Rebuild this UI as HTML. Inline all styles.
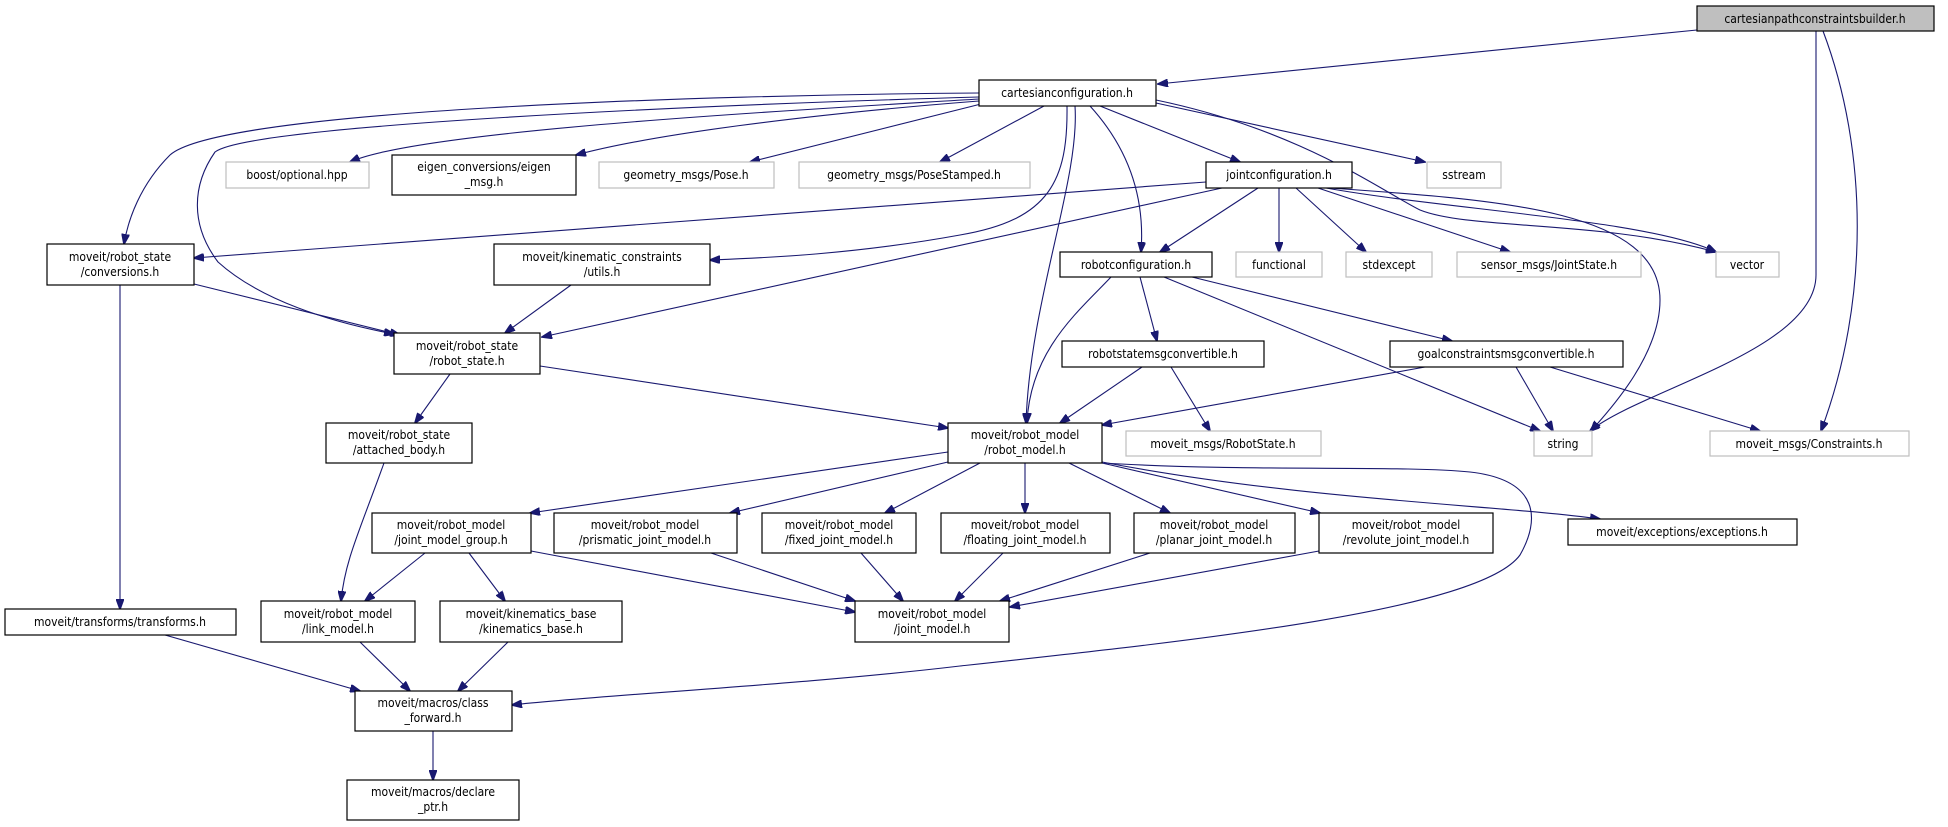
<!DOCTYPE html>
<html><head><meta charset="utf-8"><style>
html,body{margin:0;padding:0;background:#fff;}
svg{display:block;}
text{font-family:"DejaVu Sans Condensed","Liberation Sans Narrow","Liberation Sans",sans-serif;font-size:12px;fill:#000;text-anchor:middle;}
.e{fill:none;stroke:#191970;stroke-width:1.1;marker-end:url(#a);}
.b{fill:#fff;stroke:#000;stroke-width:1.2;}
.g{fill:#fff;stroke:#bfbfbf;stroke-width:1.2;}
</style></head><body>
<svg width="1948" height="827" viewBox="0 0 1948 827" xmlns="http://www.w3.org/2000/svg">
<defs><marker id="a" markerWidth="11" markerHeight="8" refX="10" refY="4" orient="auto" markerUnits="userSpaceOnUse"><path d="M0,0 L11,4 L0,8 Z" fill="#191970" stroke="#191970"/></marker></defs>

<!-- edges -->
<path class="e" d="M1697,30 L1158,84"/>
<path class="e" d="M1816,31 L1816,275 C1816,350 1640,390 1590,431"/>
<path class="e" d="M1823,31 C1868,150 1870,300 1821,431"/>
<path class="e" d="M979,93 C700,95 220,110 170,155 C140,185 128,220 124,244"/>
<path class="e" d="M979,97 C700,105 250,125 215,152 C192,185 190,225 218,262 C260,300 330,322 394,334"/>
<path class="e" d="M979,99 C800,110 420,130 350,162"/>
<path class="e" d="M979,101 C800,115 650,135 576,155"/>
<path class="e" d="M981,104 L750,162"/>
<path class="e" d="M1044,106 L940,162"/>
<path class="e" d="M1067,106 C1068,180 1050,220 960,235 C850,255 760,258 710,260"/>
<path class="e" d="M1075,106 C1080,180 1030,300 1026,423"/>
<path class="e" d="M1090,106 C1130,150 1145,200 1141,252"/>
<path class="e" d="M1100,106 L1240,162"/>
<path class="e" d="M1156,103 L1425,162"/>
<path class="e" d="M1156,100 C1300,130 1380,190 1420,210 C1470,230 1600,220 1716,252"/>
<path class="e" d="M1206,182 L194,258"/>
<path class="e" d="M1222,188 L542,337"/>
<path class="e" d="M1258,188 L1160,252"/>
<path class="e" d="M1279,188 L1279,252"/>
<path class="e" d="M1296,188 L1366,252"/>
<path class="e" d="M1318,188 L1510,252"/>
<path class="e" d="M1326,188 C1450,210 1650,220 1716,252"/>
<path class="e" d="M1330,188 C1500,200 1660,210 1660,300 C1660,360 1600,420 1591,431"/>
<path class="e" d="M1111,277 C1080,310 1030,350 1027,423"/>
<path class="e" d="M1140,277 L1157,341"/>
<path class="e" d="M1164,277 L1540,431"/>
<path class="e" d="M1192,277 L1452,341"/>
<path class="e" d="M1142,367 L1060,423"/>
<path class="e" d="M1171,367 L1210,431"/>
<path class="e" d="M1425,367 L1102,425"/>
<path class="e" d="M1516,367 L1553,431"/>
<path class="e" d="M1550,367 L1760,431"/>
<path class="e" d="M194,284 L400,335"/>
<path class="e" d="M120,285 L120,609"/>
<path class="e" d="M571,285 L505,333"/>
<path class="e" d="M450,374 L415,423"/>
<path class="e" d="M540,366 L948,428"/>
<path class="e" d="M384,463 C360,530 345,560 341,601"/>
<path class="e" d="M948,452 L530,513"/>
<path class="e" d="M948,462 L730,513"/>
<path class="e" d="M980,463 L885,513"/>
<path class="e" d="M1025,463 L1025,513"/>
<path class="e" d="M1069,463 L1170,513"/>
<path class="e" d="M1102,463 L1320,513"/>
<path class="e" d="M1102,462 C1300,500 1500,505 1600,519"/>
<path class="e" d="M1104,463 C1250,472 1400,465 1470,472 C1540,480 1540,520 1520,555 C1480,610 1200,640 960,666 C800,685 600,695 512,705"/>
<path class="e" d="M425,553 L365,601"/>
<path class="e" d="M469,553 L505,601"/>
<path class="e" d="M531,551 L855,612"/>
<path class="e" d="M711,553 L855,601"/>
<path class="e" d="M861,553 L903,601"/>
<path class="e" d="M1003,553 L955,601"/>
<path class="e" d="M1150,553 L1000,601"/>
<path class="e" d="M1319,551 L1010,607"/>
<path class="e" d="M165,635 L360,691"/>
<path class="e" d="M360,642 L410,691"/>
<path class="e" d="M508,642 L458,691"/>
<path class="e" d="M433,731 L433,780"/>

<!-- nodes -->
<rect x="1697" y="6" width="237" height="25" fill="#bfbfbf" stroke="#000" stroke-width="1.2"/><text x="1815" y="23">cartesianpathconstraintsbuilder.h</text>
<rect class="b" x="979" y="80" width="177" height="26"/><text x="1067" y="97">cartesianconfiguration.h</text>
<rect class="g" x="226" y="162" width="143" height="26"/><text x="297" y="179">boost/optional.hpp</text>
<rect class="b" x="392" y="155" width="184" height="40"/><text x="484" y="171">eigen_conversions/eigen</text><text x="484" y="186">_msg.h</text>
<rect class="g" x="599" y="162" width="175" height="26"/><text x="686" y="179">geometry_msgs/Pose.h</text>
<rect class="g" x="799" y="162" width="231" height="26"/><text x="914" y="179">geometry_msgs/PoseStamped.h</text>
<rect class="b" x="1206" y="162" width="146" height="26"/><text x="1279" y="179">jointconfiguration.h</text>
<rect class="g" x="1427" y="162" width="74" height="26"/><text x="1464" y="179">sstream</text>
<rect class="b" x="47" y="244" width="147" height="41"/><text x="120" y="261">moveit/robot_state</text><text x="120" y="276">/conversions.h</text>
<rect class="b" x="494" y="244" width="216" height="41"/><text x="602" y="261">moveit/kinematic_constraints</text><text x="602" y="276">/utils.h</text>
<rect class="b" x="1060" y="252" width="152" height="25"/><text x="1136" y="269">robotconfiguration.h</text>
<rect class="g" x="1236" y="252" width="86" height="25"/><text x="1279" y="269">functional</text>
<rect class="g" x="1346" y="252" width="86" height="25"/><text x="1389" y="269">stdexcept</text>
<rect class="g" x="1457" y="252" width="184" height="25"/><text x="1549" y="269">sensor_msgs/JointState.h</text>
<rect class="g" x="1716" y="252" width="63" height="25"/><text x="1747" y="269">vector</text>
<rect class="b" x="394" y="333" width="146" height="41"/><text x="467" y="350">moveit/robot_state</text><text x="467" y="365">/robot_state.h</text>
<rect class="b" x="1062" y="341" width="202" height="26"/><text x="1163" y="358">robotstatemsgconvertible.h</text>
<rect class="b" x="1390" y="341" width="233" height="26"/><text x="1506" y="358">goalconstraintsmsgconvertible.h</text>
<rect class="b" x="326" y="423" width="146" height="40"/><text x="399" y="439">moveit/robot_state</text><text x="399" y="454">/attached_body.h</text>
<rect class="b" x="948" y="423" width="154" height="40"/><text x="1025" y="439">moveit/robot_model</text><text x="1025" y="454">/robot_model.h</text>
<rect class="g" x="1126" y="431" width="195" height="25"/><text x="1223" y="448">moveit_msgs/RobotState.h</text>
<rect class="g" x="1534" y="431" width="58" height="25"/><text x="1563" y="448">string</text>
<rect class="g" x="1710" y="431" width="199" height="25"/><text x="1809" y="448">moveit_msgs/Constraints.h</text>
<rect class="b" x="372" y="513" width="159" height="40"/><text x="451" y="529">moveit/robot_model</text><text x="451" y="544">/joint_model_group.h</text>
<rect class="b" x="554" y="513" width="183" height="40"/><text x="645" y="529">moveit/robot_model</text><text x="645" y="544">/prismatic_joint_model.h</text>
<rect class="b" x="762" y="513" width="154" height="40"/><text x="839" y="529">moveit/robot_model</text><text x="839" y="544">/fixed_joint_model.h</text>
<rect class="b" x="941" y="513" width="169" height="40"/><text x="1025" y="529">moveit/robot_model</text><text x="1025" y="544">/floating_joint_model.h</text>
<rect class="b" x="1134" y="513" width="161" height="40"/><text x="1214" y="529">moveit/robot_model</text><text x="1214" y="544">/planar_joint_model.h</text>
<rect class="b" x="1319" y="513" width="174" height="40"/><text x="1406" y="529">moveit/robot_model</text><text x="1406" y="544">/revolute_joint_model.h</text>
<rect class="b" x="1568" y="519" width="229" height="26"/><text x="1682" y="536">moveit/exceptions/exceptions.h</text>
<rect class="b" x="5" y="609" width="231" height="26"/><text x="120" y="626">moveit/transforms/transforms.h</text>
<rect class="b" x="261" y="601" width="154" height="41"/><text x="338" y="618">moveit/robot_model</text><text x="338" y="633">/link_model.h</text>
<rect class="b" x="440" y="601" width="182" height="41"/><text x="531" y="618">moveit/kinematics_base</text><text x="531" y="633">/kinematics_base.h</text>
<rect class="b" x="855" y="601" width="154" height="41"/><text x="932" y="618">moveit/robot_model</text><text x="932" y="633">/joint_model.h</text>
<rect class="b" x="355" y="691" width="157" height="40"/><text x="433" y="707">moveit/macros/class</text><text x="433" y="722">_forward.h</text>
<rect class="b" x="347" y="780" width="172" height="40"/><text x="433" y="796">moveit/macros/declare</text><text x="433" y="811">_ptr.h</text>
</svg>
</body></html>
